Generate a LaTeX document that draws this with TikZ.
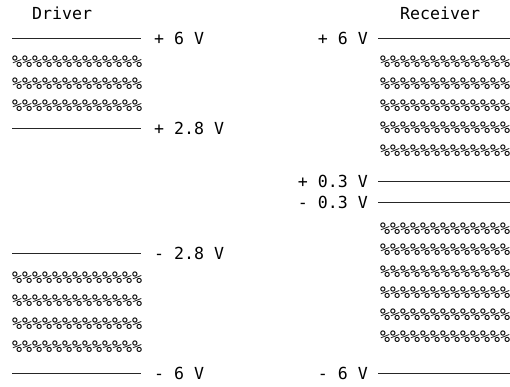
\documentclass[tikz,border=0pt]{standalone}
\usepackage{fontspec}
\setmonofont{DejaVu Sans Mono}
\begin{document}
\begin{tikzpicture}[x=1pt,y=-1pt,
  txt/.style={inner sep=0pt,font=\ttfamily\fontsize{16.6}{20}\selectfont,yshift=-6pt},
  lbl/.style={txt,anchor=base west},
  rlbl/.style={txt,anchor=base east},
  pct/.style={txt,anchor=base west},
  level/.style={line width=0.8pt,draw=black!85}]
\useasboundingbox[fill=white] (0,0) rectangle (510,386);
% ---- Driver side ----
\node[lbl] (drv) at (32,13) {Driver};
\coordinate (dl1a) at (12,38);  \coordinate (dl1b) at (141,38);
\coordinate (dl2a) at (12,128); \coordinate (dl2b) at (141,128);
\coordinate (dl3a) at (12,253); \coordinate (dl3b) at (141,253);
\coordinate (dl4a) at (12,373); \coordinate (dl4b) at (141,373);
\draw[level] (dl1a) -- (dl1b);
\draw[level] (dl2a) -- (dl2b);
\draw[level] (dl3a) -- (dl3b);
\draw[level] (dl4a) -- (dl4b);
\node[lbl] (dv1) at (154,38) {+ 6 V};
\node[lbl] (dv2) at (154,128) {+ 2.8 V};
\node[lbl] (dv3) at (154,253) {- 2.8 V};
\node[lbl] (dv4) at (154,373) {- 6 V};
\node[pct] (dp1) at (12,61)  {\%\%\%\%\%\%\%\%\%\%\%\%\%};
\node[pct] (dp2) at (12,83)  {\%\%\%\%\%\%\%\%\%\%\%\%\%};
\node[pct] (dp3) at (12,105) {\%\%\%\%\%\%\%\%\%\%\%\%\%};
\node[pct] (dp4) at (12,277) {\%\%\%\%\%\%\%\%\%\%\%\%\%};
\node[pct] (dp5) at (12,300) {\%\%\%\%\%\%\%\%\%\%\%\%\%};
\node[pct] (dp6) at (12,323) {\%\%\%\%\%\%\%\%\%\%\%\%\%};
\node[pct] (dp7) at (12,346) {\%\%\%\%\%\%\%\%\%\%\%\%\%};
% ---- Receiver side ----
\node[lbl] (rcv) at (400,13) {Receiver};
\coordinate (rl1a) at (378,38);  \coordinate (rl1b) at (510,38);
\coordinate (rl2a) at (378,181); \coordinate (rl2b) at (510,181);
\coordinate (rl3a) at (378,202); \coordinate (rl3b) at (510,202);
\coordinate (rl4a) at (378,373); \coordinate (rl4b) at (510,373);
\draw[level] (rl1a) -- (rl1b);
\draw[level] (rl2a) -- (rl2b);
\draw[level] (rl3a) -- (rl3b);
\draw[level] (rl4a) -- (rl4b);
\node[rlbl] (rv1) at (368,38)  {+ 6 V};
\node[rlbl] (rv2) at (368,181) {+ 0.3 V};
\node[rlbl] (rv3) at (368,202) {- 0.3 V};
\node[rlbl] (rv4) at (368,373) {- 6 V};
\node[pct] (rp1) at (380,61)  {\%\%\%\%\%\%\%\%\%\%\%\%\%};
\node[pct] (rp2) at (380,83)  {\%\%\%\%\%\%\%\%\%\%\%\%\%};
\node[pct] (rp3) at (380,105) {\%\%\%\%\%\%\%\%\%\%\%\%\%};
\node[pct] (rp4) at (380,127) {\%\%\%\%\%\%\%\%\%\%\%\%\%};
\node[pct] (rp5) at (380,150) {\%\%\%\%\%\%\%\%\%\%\%\%\%};
\node[pct] (rp6) at (380,228) {\%\%\%\%\%\%\%\%\%\%\%\%\%};
\node[pct] (rp7) at (380,249) {\%\%\%\%\%\%\%\%\%\%\%\%\%};
\node[pct] (rp8) at (380,271) {\%\%\%\%\%\%\%\%\%\%\%\%\%};
\node[pct] (rp9) at (380,292) {\%\%\%\%\%\%\%\%\%\%\%\%\%};
\node[pct] (rp10) at (380,314) {\%\%\%\%\%\%\%\%\%\%\%\%\%};
\node[pct] (rp11) at (380,336) {\%\%\%\%\%\%\%\%\%\%\%\%\%};
\end{tikzpicture}
\end{document}
